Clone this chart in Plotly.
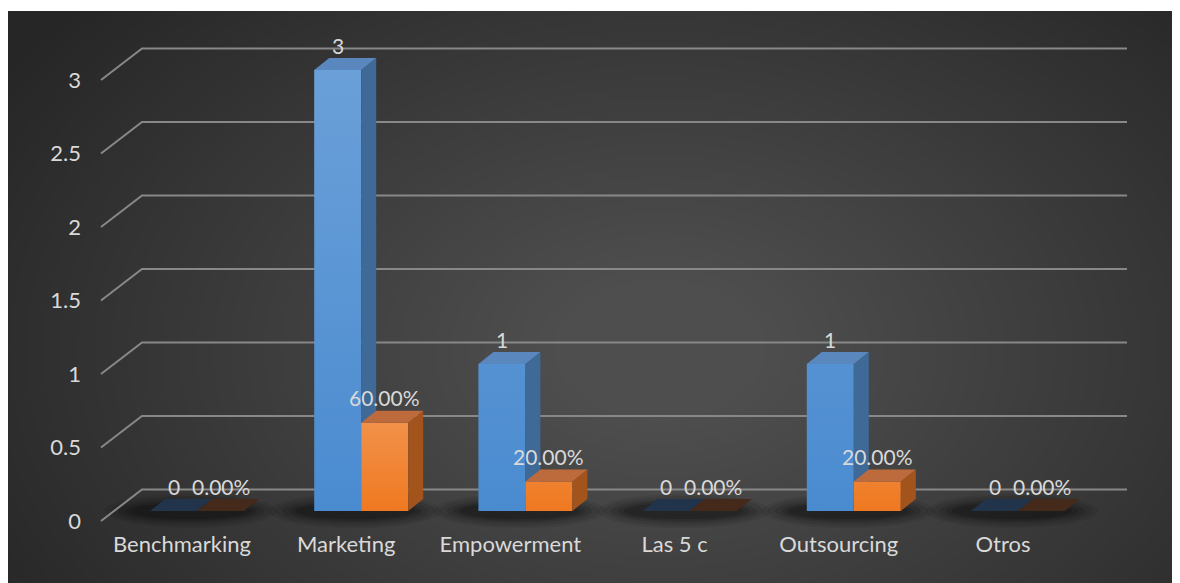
import plotly.graph_objects as go

# ---------------- data ----------------
categories = ["Benchmarking", "Marketing", "Empowerment", "Las 5 c", "Outsourcing", "Otros"]
counts = [0, 3, 1, 0, 1, 0]
shares = [0.0, 0.60, 0.20, 0.0, 0.20, 0.0]
count_labels = ["0", "3", "1", "0", "1", "0"]
share_labels = ["0.00%", "60.00%", "20.00%", "0.00%", "20.00%", "0.00%"]
y_ticks = [0, 0.5, 1, 1.5, 2, 2.5, 3]
y_tick_labels = ["0", "0.5", "1", "1.5", "2", "2.5", "3"]

# ---------------- geometry ----------------
OFF = 8                      # page body margin: figure px = reference px - OFF
W, H = 1180, 583
ML, MR, MT, MB = 74, 0, 3, 62  # figure px
PX_PER_CAT = 164.2
CAT0_PX = 182          # reference px, centre of first category label
PX_PER_UNIT = 147.0
FRONT_ZERO_PX = 521    # plane of the value-axis labels
BAR_ZERO_PX = 511      # front face of the bars
BACK_ZERO_PX = 489.5   # back wall
GRID_FRONT_PX = 101
GRID_BACK_LEFT_PX = 142
GRID_BACK_RIGHT_PX = 1127
GROUP_SHIFT_PX = 15
BAR_W_PX = 47
DEPTH_DX_PX = 15
DEPTH_DY_PX = 12

# plot area in reference px
pl_ref, pr_ref = ML + OFF, W - MR + OFF
pt_ref, pb_ref = MT + OFF, H - MB + OFF
plot_w, plot_h = pr_ref - pl_ref, pb_ref - pt_ref


def xpx(p):
    return (p - CAT0_PX) / PX_PER_CAT


def yrange(zero_px):
    return [(zero_px - pb_ref) / PX_PER_UNIT, (zero_px - pt_ref) / PX_PER_UNIT]


def paper_x(p):   # reference px -> paper
    return (p - pl_ref) / plot_w


def paper_y(p):
    return (pb_ref - p) / plot_h


dxu = DEPTH_DX_PX / PX_PER_CAT
dyu = DEPTH_DY_PX / PX_PER_UNIT
bw = BAR_W_PX / PX_PER_CAT
gshift = GROUP_SHIFT_PX / PX_PER_CAT
back_off = (FRONT_ZERO_PX - BACK_ZERO_PX) / PX_PER_UNIT

TEXT = "#d9d9d9"
FONT = "Lato"

fig = go.Figure()

# ---------------- gridlines (back wall + slanted floor edge) ----------------
gx, gy = [], []
for t in y_ticks:
    gx += [xpx(GRID_FRONT_PX), xpx(GRID_BACK_LEFT_PX), xpx(GRID_BACK_RIGHT_PX), None]
    gy += [t, t + back_off, t + back_off, None]
fig.add_trace(go.Scatter(x=gx, y=gy, mode="lines", line=dict(color="#888888", width=2),
                         hoverinfo="skip", showlegend=False, xaxis="x", yaxis="y"))

series = [
    dict(vals=counts, labels=count_labels, side=-1, axis="y2",
         front="#4a8bd0", top="#5a87be", sidec="#3f6996", zero="#22344b",
         name="Frecuencia"),
    dict(vals=shares, labels=share_labels, side=1, axis="y3",
         front="#ef7921", top="#bd6a3d", sidec="#a3541d", zero="#45291b",
         name="Porcentaje"),
]

n = len(categories)
annotations = []
for s in series:
    centers = [i + gshift + s["side"] * bw / 2 for i in range(n)]
    # front faces
    fig.add_trace(go.Bar(x=centers, y=s["vals"], width=bw, marker=dict(color=s["front"], line=dict(width=0)),
                         name=s["name"], showlegend=False, xaxis="x", yaxis=s["axis"], hoverinfo="skip"))
    # gradient highlight on front face
    hx, hy = [], []
    for c, v in zip(centers, s["vals"]):
        if v > 0:
            hx += [c - bw / 2, c + bw / 2, c + bw / 2, c - bw / 2, c - bw / 2, None]
            hy += [0, 0, v, v, 0, None]
    if hx:
        fig.add_trace(go.Scatter(x=hx, y=hy, mode="lines", line=dict(width=0), fill="toself",
                                 fillgradient=dict(type="vertical",
                                                   colorscale=[[0, "rgba(255,255,255,0)"],
                                                               [1, "rgba(255,255,255,0.18)"]]),
                                 hoverinfo="skip", showlegend=False, xaxis="x", yaxis=s["axis"]))
    # side faces
    sx, sy = [], []
    for c, v in zip(centers, s["vals"]):
        if v > 0:
            r = c + bw / 2
            sx += [r, r + dxu, r + dxu, r, r, None]
            sy += [0, dyu, v + dyu, v, 0, None]
    if sx:
        fig.add_trace(go.Scatter(x=sx, y=sy, mode="lines", line=dict(width=0), fill="toself",
                                 fillcolor=s["sidec"], hoverinfo="skip", showlegend=False,
                                 xaxis="x", yaxis=s["axis"]))
    # top faces
    for want_zero in (False, True):
        tx, ty = [], []
        for c, v in zip(centers, s["vals"]):
            if (v == 0) == want_zero:
                l, r = c - bw / 2, c + bw / 2
                tx += [l, r, r + dxu, l + dxu, l, None]
                ty += [v, v, v + dyu, v + dyu, v, None]
        if tx:
            fig.add_trace(go.Scatter(x=tx, y=ty, mode="lines", line=dict(width=0), fill="toself",
                                     fillcolor=s["zero"] if want_zero else s["top"],
                                     hoverinfo="skip", showlegend=False, xaxis="x", yaxis=s["axis"]))
    # data labels
    for c, v, lab in zip(centers, s["vals"], s["labels"]):
        annotations.append(dict(x=c, y=v, xref="x", yref=s["axis"], text=lab, showarrow=False,
                                xanchor="center", yanchor="middle", yshift=25,
                                font=dict(family=FONT, size=21, color=TEXT)))

# ---------------- shapes: frame, background glow, shadows ----------------
shapes = []
shapes.append(dict(type="rect", xref="paper", yref="paper", x0=paper_x(-20), x1=paper_x(1220),
                   y0=paper_y(11), y1=paper_y(-20), fillcolor="white", line=dict(width=0), layer="below"))
steps = 40
cx, cy = 660, 350
for k in range(steps):
    f = 1 - k / steps
    rx, ry = 90 + 680 * f, 60 + 450 * f
    shapes.append(dict(type="circle", xref="paper", yref="paper",
                       x0=paper_x(cx - rx), x1=paper_x(cx + rx),
                       y0=paper_y(cy + ry), y1=paper_y(cy - ry),
                       fillcolor="rgba(255,255,255,0.0062)", line=dict(width=0), layer="below"))

for i in range(n):
    gc = i + gshift - 6 / PX_PER_CAT
    for rxp, ryp, op in [(86, 15, 0.07), (80, 13, 0.09), (73, 10, 0.11), (66, 8, 0.13), (60, 6, 0.15)]:
        shapes.append(dict(type="circle", xref="x", yref="y2",
                           x0=gc - rxp / PX_PER_CAT, x1=gc + rxp / PX_PER_CAT,
                           y0=(-2 - ryp) / PX_PER_UNIT, y1=(2 + ryp) / PX_PER_UNIT,
                           fillcolor=f"rgba(0,0,0,{op})", line=dict(width=0), layer="below"))

fig.update_layout(
    width=W, height=H,
    margin=dict(l=ML, r=MR, t=MT, b=MB, pad=0),
    paper_bgcolor="#262626",
    plot_bgcolor="rgba(0,0,0,0)",
    showlegend=False,
    barmode="overlay",
    font=dict(family=FONT, size=22, color=TEXT),
    xaxis=dict(range=[xpx(pl_ref), xpx(pr_ref)], tickvals=list(range(n)), ticktext=categories,
               showgrid=False, zeroline=False, showline=False, ticks="", fixedrange=True,
               tickfont=dict(family=FONT, size=22, color=TEXT)),
    yaxis=dict(range=yrange(FRONT_ZERO_PX), tickvals=y_ticks, ticktext=y_tick_labels,
               showgrid=False, zeroline=False, showline=False, ticks="", fixedrange=True,
               tickfont=dict(family=FONT, size=22, color=TEXT)),
    yaxis2=dict(range=yrange(BAR_ZERO_PX), overlaying="y", visible=False, fixedrange=True),
    yaxis3=dict(range=yrange(BAR_ZERO_PX), overlaying="y", visible=False, fixedrange=True),
    shapes=shapes,
    annotations=annotations,
)

fig.write_html("out.html")
